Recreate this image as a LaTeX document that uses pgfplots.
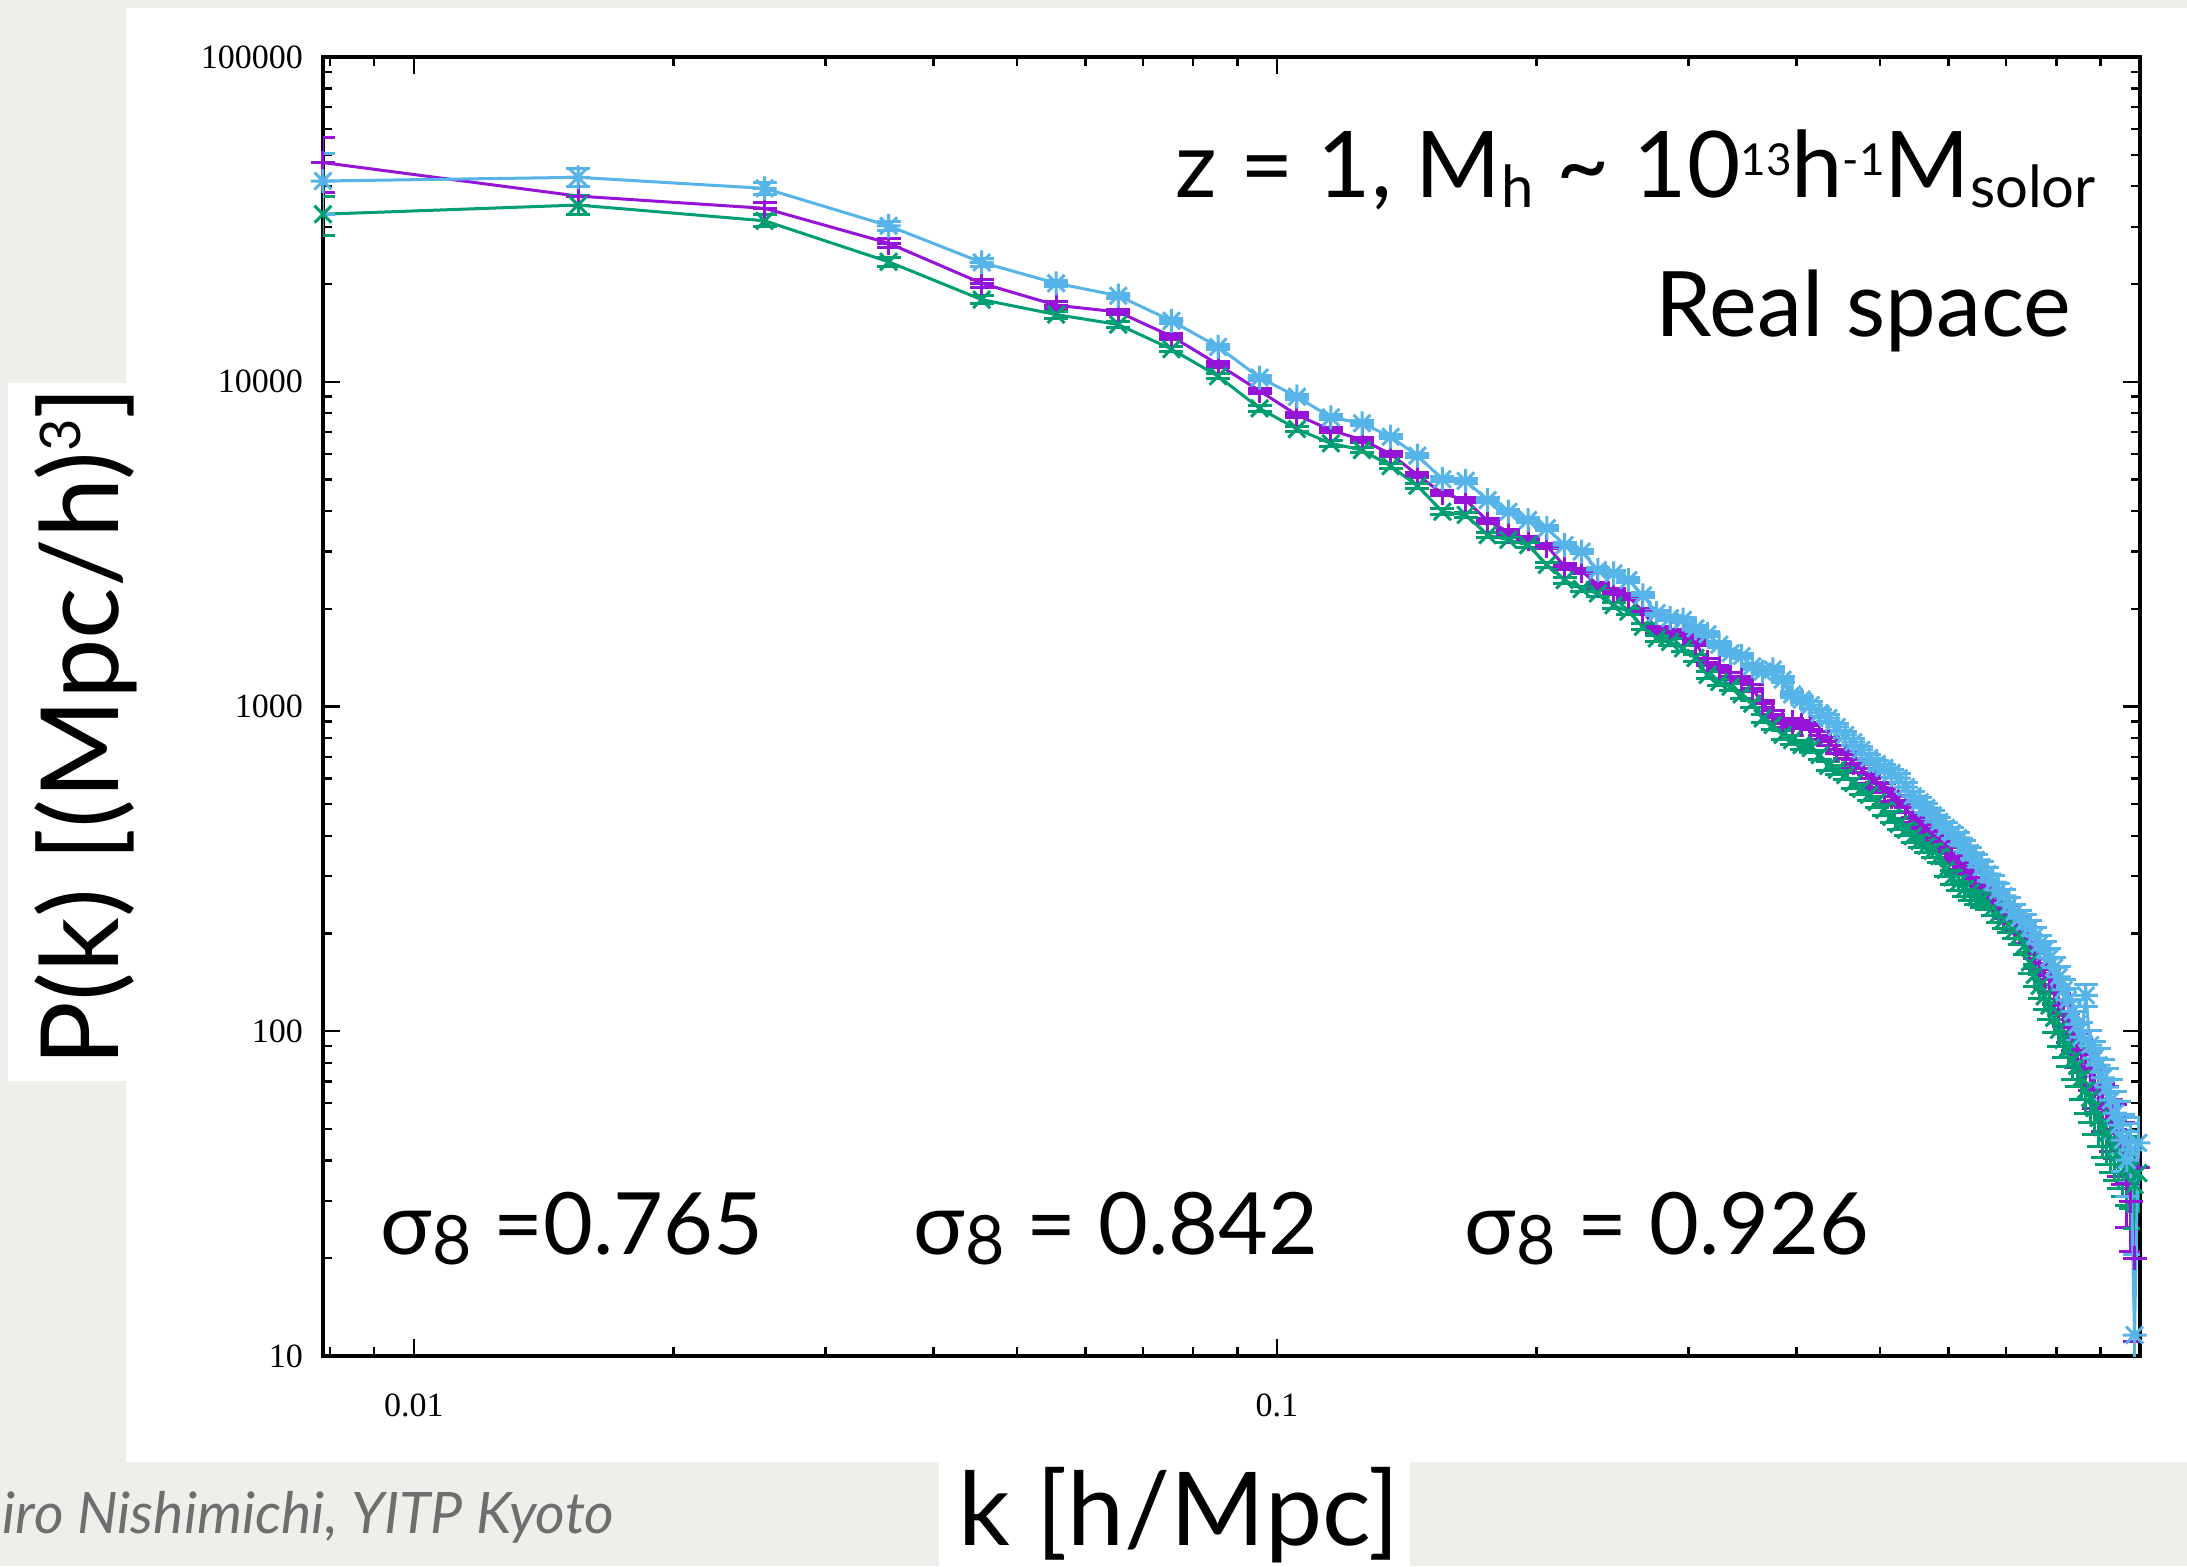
\documentclass[border=0pt]{standalone}
\usepackage{pgfplots}
\pgfplotsset{compat=1.18}
\usepackage{pgfplotstable}
\usepackage{fontspec}
\setmainfont{Liberation Serif}
\newfontfamily\lato{Lato}
\definecolor{bgc}{RGB}{240,238,234}
\definecolor{gppurple}{RGB}{150,20,215}
\definecolor{gpgreen}{RGB}{0,158,115}
\definecolor{gpcyan}{RGB}{86,180,233}
\definecolor{footgray}{RGB}{110,110,110}
\newcommand{\mysub}[1]{\raisebox{-2.5pt}{\fontsize{14.5}{15}\selectfont #1}}
\newcommand{\mysup}[1]{\raisebox{5.5pt}{\fontsize{11}{12}\selectfont #1}}
\pgfdeclareplotmark{gpstar}{%
  \pgfpathmoveto{\pgfqpoint{-\pgfplotmarksize}{0pt}}%
  \pgfpathlineto{\pgfqpoint{\pgfplotmarksize}{0pt}}%
  \pgfpathmoveto{\pgfqpoint{0pt}{-\pgfplotmarksize}}%
  \pgfpathlineto{\pgfqpoint{0pt}{\pgfplotmarksize}}%
  \pgfpathmoveto{\pgfqpoint{-0.7071\pgfplotmarksize}{-0.7071\pgfplotmarksize}}%
  \pgfpathlineto{\pgfqpoint{0.7071\pgfplotmarksize}{0.7071\pgfplotmarksize}}%
  \pgfpathmoveto{\pgfqpoint{-0.7071\pgfplotmarksize}{0.7071\pgfplotmarksize}}%
  \pgfpathlineto{\pgfqpoint{0.7071\pgfplotmarksize}{-0.7071\pgfplotmarksize}}%
  \pgfusepathqstroke}

\pgfplotstableread{
k P e
0.00785 47300 9100
0.0155 37300 2490
0.0255 34200 1420
0.0355 26700 850
0.0455 20100 545
0.0555 17200 406
0.0655 16400 334
0.0755 13800 262
0.0855 11300 208
0.0955 9370 171
0.1055 7900 143
0.1155 7100 125
0.1255 6620 112
0.1355 5990 100
0.1455 5160 88
0.1555 4530 79
0.1655 4320 74
0.1755 3730 67
0.1855 3450 62
0.1955 3270 58
0.2055 3120 55
0.2155 2700 51
0.2255 2610 48
0.2355 2370 45
0.2455 2260 43
0.2555 2180 41
0.2655 1960 39
0.2755 1730 37
0.2855 1690 36
0.2955 1660 34
0.3055 1570 33
0.3155 1370 31
0.3255 1310 30
0.3355 1240 29
0.3455 1210 28
0.3555 1140 28
0.3655 1020 26
0.3755 948 25
0.3855 888 25
0.3955 896 24
0.4055 880 24
0.4155 872 23
0.4255 815 22
0.4355 782 22
0.4455 735 21
0.4555 712 21
0.4655 668 20
0.4755 645 20
0.4855 600 19
0.4955 584 19
0.5055 560 18
0.5155 528 18
0.5255 515 18
0.5355 488 17
0.5455 455 17
0.5555 444 16.5
0.5655 420 16
0.5755 411 16
0.5855 385 15.5
0.5955 368 15
0.6055 352 15
0.6155 330 14.7
0.6255 322 14.5
0.6355 305 14.2
0.6455 298 14
0.6555 280 13.7
0.6655 278 13.5
0.6755 260 13.3
0.6855 252 13.1
0.6955 236 12.9
0.7055 231 12.7
0.7155 215 12.5
0.7255 212 12.3
0.7355 198 12.1
0.7455 187 11.9
0.7555 168 11.8
0.7655 162 11.6
0.7755 148 11.5
0.7855 144 11.3
0.7955 133 11.2
0.8055 120 11.0
0.8155 114 10.8
0.8255 103 10.7
0.8355 98 10.6
0.8455 88 10.4
0.8555 85 10.3
0.8655 78 10.2
0.8755 76 10.1
0.8855 68 10.0
0.8955 66 9.9
0.9055 59 9.8
0.9155 58 9.6
0.9255 52 9.5
0.9355 50 9.4
0.9455 45 9.3
0.9555 43 9.2
0.9655 34 9.1
0.9755 30 9.0
0.9855 20 8.9
0.9955 38 8.8
}\purpletab

\pgfplotstableread{
k P e
0.00785 32800 4500
0.0155 35000 2370
0.0255 31300 1330
0.0355 23400 770
0.0455 17900 507
0.0555 16100 390
0.0655 15000 317
0.0755 12600 250
0.0855 10400 199
0.0955 8280 161
0.1055 7150 137
0.1155 6460 121
0.1255 6160 109
0.1355 5500 97
0.1455 4780 86
0.1555 3980 76
0.1655 3890 72
0.1755 3370 65
0.1855 3260 61
0.1955 3140 58
0.2055 2730 54
0.2155 2450 50
0.2255 2300 47
0.2355 2230 45
0.2455 2050 43
0.2555 1960 40
0.2655 1760 38
0.2755 1620 37
0.2855 1580 35
0.2955 1510 34
0.3055 1410 33
0.3155 1250 31
0.3255 1190 30
0.3355 1150 29
0.3455 1090 28
0.3555 1020 27
0.3655 920 26
0.3755 877 25
0.3855 817 25
0.3955 788 24
0.4055 761 24
0.4155 745 23
0.4255 709 22
0.4355 656 22
0.4455 638 21
0.4555 615 21
0.4655 581 20
0.4755 557 20
0.4855 534 19
0.4955 508 19
0.5055 480 18
0.5155 457 18
0.5255 435 18
0.5355 417 17
0.5455 399 17
0.5555 385 16.5
0.5655 372 16
0.5755 359 16
0.5855 346 15.5
0.5955 314 15
0.6055 298 15
0.6155 286 14.7
0.6255 274 14.5
0.6355 267 14.2
0.6455 259 14
0.6555 254 13.7
0.6655 250 13.5
0.6755 240 13.3
0.6855 230 13.1
0.6955 220 12.9
0.7055 214 12.7
0.7155 205 12.5
0.7255 197 12.3
0.7355 184 12.1
0.7455 163 11.9
0.7555 149 11.8
0.7655 138 11.6
0.7755 128 11.5
0.7855 120 11.3
0.7955 110 11.2
0.8055 101 11.0
0.8155 94.0 10.8
0.8255 88.8 10.7
0.8355 81.5 10.6
0.8455 78.2 10.4
0.8555 71.8 10.3
0.8655 65.9 10.2
0.8755 62.3 10.1
0.8855 58.0 10.0
0.8955 54.1 9.9
0.9055 50.7 9.8
0.9155 48.6 9.6
0.9255 46.2 9.5
0.9355 44.0 9.4
0.9455 42.2 9.3
0.9555 40.1 9.2
0.9655 38.2 9.1
0.9755 37.4 9.0
0.9855 33.6 8.9
0.9955 36.6 8.8
}\greentab

\pgfplotstableread{
k P e
0.00785 41500 8800
0.0155 42600 2760
0.0255 39400 1580
0.0355 30200 930
0.0455 23300 600
0.0555 20100 450
0.0655 18400 360
0.0755 15400 280
0.0855 12800 220
0.0955 10300 180
0.1055 8990 150
0.1155 7770 130
0.1255 7450 120
0.1355 6770 105
0.1455 5920 93
0.1555 5010 82
0.1655 4950 77
0.1755 4320 70
0.1855 3980 64
0.1955 3750 60
0.2055 3540 57
0.2155 3140 53
0.2255 3000 50
0.2355 2630 46
0.2455 2570 44
0.2555 2450 42
0.2655 2200 40
0.2755 1940 38
0.2855 1870 36
0.2955 1850 35
0.3055 1740 34
0.3155 1670 32
0.3255 1550 31
0.3355 1460 29
0.3455 1430 28
0.3555 1330 28
0.3655 1280 27
0.3755 1300 26
0.3855 1210 26
0.3955 1090 24
0.4055 1050 24
0.4155 1010 23
0.4255 955 22
0.4355 921 22
0.4455 865 21
0.4555 817 21
0.4655 777 20
0.4755 735 20
0.4855 694 19
0.4955 665 19
0.5055 647 18
0.5155 624 18
0.5255 602 18
0.5355 565 17
0.5455 530 17
0.5555 508 16.5
0.5655 487 16
0.5755 463 16
0.5855 441 15.5
0.5955 423 15
0.6055 408 15
0.6155 394 14.7
0.6255 372 14.5
0.6355 354 14.2
0.6455 337 14
0.6555 320 13.7
0.6655 305 13.5
0.6755 288 13.3
0.6855 272 13.1
0.6955 261 12.9
0.7055 245 12.7
0.7155 233 12.5
0.7255 223 12.3
0.7355 217 12.1
0.7455 208 11.9
0.7555 197 11.8
0.7655 186 11.6
0.7755 178 11.5
0.7855 168 11.3
0.7955 157 11.2
0.8055 147 11.0
0.8155 134 10.8
0.8255 125 10.7
0.8355 115 10.6
0.8455 105 10.4
0.8555 96 10.3
0.8655 129 10.2
0.8755 90.7 10.1
0.8855 82.7 10.0
0.8955 78.7 9.9
0.9055 71.8 9.8
0.9155 67.3 9.6
0.9255 61.4 9.5
0.9355 56.0 9.4
0.9455 51.4 9.3
0.9555 46.2 9.2
0.9655 40.1 9.1
0.9755 43.1 9.0
0.9855 11.6 8.9
0.9955 45.3 8.8
}\cyantab

\begin{document}
\begin{tikzpicture}[x=0.25pt,y=0.25pt]
\fill[bgc] (0,0) rectangle (2187,1566);
\fill[white] (126,104) rectangle (2187,1558);
\fill[white] (8,485) rectangle (126,1183);
\fill[white] (939,0) rectangle (1410,104);

\begin{axis}[
  at={(80.75pt,52.5pt)}, anchor=south west,
  scale only axis, width=454.25pt, height=324.75pt,
  xmode=log, ymode=log,
  xmin=0.00785, xmax=1.0, ymin=10, ymax=100000,
  xtick={0.01,0.1}, xticklabels={0.01,0.1},
  ytick={10,100,1000,10000,100000}, yticklabels={10,100,1000,10000,100000},
  minor xtick={0.008,0.009,0.02,0.03,0.04,0.05,0.06,0.07,0.08,0.09,0.2,0.3,0.4,0.5,0.6,0.7,0.8,0.9},
  minor ytick={20,30,40,50,60,70,80,90,200,300,400,500,600,700,800,900,2000,3000,4000,5000,6000,7000,8000,9000,20000,30000,40000,50000,60000,70000,80000,90000},
  tick style={black, line width=0.6pt},
  major tick length=4.25pt, minor tick length=2.2pt,
  axis line style={line width=0.9pt},
  ticklabel style={font=\fontsize{8.5}{10}\selectfont},
  xticklabel style={yshift=-6pt},
  yticklabel style={xshift=-1.5pt},
  /pgf/number format/assume math mode=true,
]
\addplot[color=gppurple, line width=0.75pt, mark=+, mark size=3pt, mark options={solid},
  error bars/.cd, y dir=both, y explicit,
  error bar style={line width=0.75pt},
  error mark options={line width=0.75pt, mark size=3pt, rotate=90}]
  table[x=k, y=P, y error=e] {\purpletab};
\addplot[color=gpgreen, line width=0.75pt, mark=x, mark size=3pt, mark options={solid},
  error bars/.cd, y dir=both, y explicit,
  error bar style={line width=0.75pt},
  error mark options={line width=0.75pt, mark size=3pt, rotate=90}]
  table[x=k, y=P, y error=e] {\greentab};
\addplot[color=gpcyan, line width=0.75pt, mark=gpstar, mark size=3pt, mark options={solid},
  error bars/.cd, y dir=both, y explicit,
  error bar style={line width=0.75pt},
  error mark options={line width=0.75pt, mark size=3pt, rotate=90}]
  table[x=k, y=P, y error=e] {\cyantab};
\end{axis}

\node[anchor=base west, inner sep=0] at (1175,1368) {\lato\fontsize{23}{26}\selectfont z = 1, M\mysub{h} \textasciitilde{} 10\mysup{13}h\mysup{-1}M\mysub{solor}};
\node[anchor=base west, inner sep=0] at (1655,1229) {\lato\fontsize{22.6}{25}\selectfont Real space};
\node[anchor=base west, inner sep=0] at (380,311) {\lato\fontsize{21.5}{24}\selectfont σ\raisebox{-2.5pt}{\fontsize{17}{17}\selectfont 8} =0.765};
\node[anchor=base west, inner sep=0] at (913,311) {\lato\fontsize{21.5}{24}\selectfont σ\raisebox{-2.5pt}{\fontsize{17}{17}\selectfont 8} = 0.842};
\node[anchor=base west, inner sep=0] at (1464,311) {\lato\fontsize{21.5}{24}\selectfont σ\raisebox{-2.5pt}{\fontsize{17}{17}\selectfont 8} = 0.926};
\node[rotate=90, anchor=base west, inner sep=0] at (118,499) {\lato\fontsize{27}{30}\selectfont P(k) [(Mpc/h)\raisebox{9.5pt}{\fontsize{14}{14}\selectfont 3}]};
\node[anchor=base west, inner sep=0] at (958,21) {\lato\fontsize{25.5}{28}\selectfont k [h/Mpc]};
\node[anchor=base west, inner sep=0, text=footgray] at (2,33) {\lato\itshape\fontsize{14.3}{16}\selectfont iro Nishimichi, YITP Kyoto};
\end{tikzpicture}
\end{document}
